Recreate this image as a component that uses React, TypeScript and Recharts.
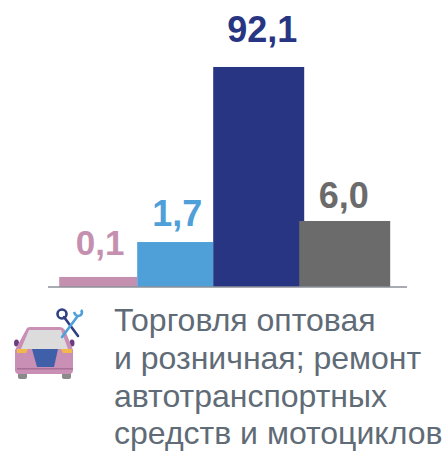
import React from 'react';
import { BarChart, Bar, XAxis, YAxis, Cell, LabelList, ReferenceLine } from 'recharts';

const categories = ['a', 'b', 'c', 'd'];
const valueLabels = ['0,1', '1,7', '92,1', '6,0'];
// the picture's scale is not linear with the labels, so heights are read off the bars
const barHeights = [4.2, 18.8, 92, 27.6];
const barColors = ['#c58fb0', '#4f9fd9', '#283583', '#6b6b6b'];

// layout of the uneven bars, in pixels on the x axis
const barCenters = [98, 175, 258.5, 344.5];
const barWidths = [78, 76, 91, 91];
const labelGaps = [22, 16, 25, 13];
const labelShifts = [2, 2, 3.5, -1];
const labelSizes = [35, 36, 36, 36];

const captionLines = [
	'Торговля оптовая',
	'и розничная; ремонт',
	'автотранспортных',
	'средств и мотоциклов',
];

const data = categories.map((name, i) => ({
	name,
	pos: barCenters[i],
	height: barHeights[i],
	label: valueLabels[i],
}));

const FONT = '"Liberation Sans", Arial, sans-serif';

const UnevenBar = (props: any) => {
	const { x, y, width, height, index, fill } = props;
	const w = barWidths[index];
	return <rect x={x + width / 2 - w / 2} y={y} width={w} height={height} fill={fill} />;
};

const BarLabel = (props: any) => {
	const { x, y, width, index, value } = props;
	return (
		<text
			x={x + width / 2 + labelShifts[index]}
			y={y - labelGaps[index]}
			textAnchor="middle"
			fontFamily={FONT}
			fontWeight={700}
			fontSize={labelSizes[index]}
			fill={barColors[index]}
		>
			{value}
		</text>
	);
};

const CarIcon = () => (
	<svg width={90} height={90} viewBox="0 0 90 90" style={{ position: 'absolute', left: 0, top: 300 }}>
		{/* wheels */}
		<rect x={18} y={71} width={9} height={8} rx={2} fill="#8a8a8a" />
		<rect x={62} y={71} width={9} height={8} rx={2} fill="#8a8a8a" />
		{/* mirrors */}
		<ellipse cx={16.5} cy={43} rx={2.5} ry={3.5} fill="#6b3d80" />
		<ellipse cx={72} cy={43} rx={2.5} ry={3.5} fill="#6b3d80" />
		{/* body */}
		<path
			d="M27 28 Q28 27 31 27 L60 27 Q63 27 65 30 L73 50 L73 70 Q73 74 69 74 L19 74 Q15 74 15 70 L15 50 Z"
			fill="#c98fb5"
		/>
		<path d="M29 30 L61 30 L68 49 L21 49 Z" fill="#dcdcdc" />
		<rect x={17} y={68} width={56} height={1.5} fill="#a86f97" />
		{/* lights and grille */}
		<path d="M17 49 L28 49 L26 53 L17 53 Z" fill="#f2b84b" />
		<path d="M61 49 L72 49 L72 53 L63 53 Z" fill="#f2b84b" />
		<path d="M32 49 L58 49 L54 67 L37 67 Z" fill="#3f5fa8" />
		{/* tools */}
		<line x1={64} y1={17} x2={78} y2={36} stroke="#2f3f80" strokeWidth={2.6} strokeLinecap="round" />
		<circle cx={62} cy={14} r={4.5} fill="none" stroke="#2f3f80" strokeWidth={2.6} />
		<line x1={62} y1={37} x2={77} y2={17} stroke="#4f9fd9" strokeWidth={2.6} strokeLinecap="round" />
		<path d="M74 12 Q76 18 81 15 Q83 12 81 10" fill="none" stroke="#4f9fd9" strokeWidth={2.6} />
	</svg>
);

export default function App() {
	return (
		<div style={{ position: 'absolute', left: 0, top: 0, width: 446, height: 452, background: '#fff', overflow: 'hidden' }}>
			<BarChart width={446} height={452} data={data} margin={{ top: 0, right: 0, left: 0, bottom: 165 }}>
				<XAxis dataKey="pos" type="number" domain={[0, 446]} hide />
				<YAxis type="number" domain={[0, 120]} hide />
				<Bar dataKey="height" isAnimationActive={false} shape={<UnevenBar />}>
					{data.map((d, i) => (
						<Cell key={d.name} fill={barColors[i]} />
					))}
					<LabelList dataKey="label" content={<BarLabel />} />
				</Bar>
				<ReferenceLine
					segment={[{ x: 48, y: 0 }, { x: 407, y: 0 }]}
					stroke="#8b9198"
					strokeWidth={1.5}
				/>
			</BarChart>
			<CarIcon />
			<div
				style={{
					position: 'absolute',
					left: 114,
					top: 302,
					fontFamily: FONT,
					fontSize: 32,
					lineHeight: '37.8px',
					color: '#5f6b76',
					whiteSpace: 'nowrap',
				}}
			>
				{captionLines.map(line => (
					<div key={line}>{line}</div>
				))}
			</div>
		</div>
	);
}
